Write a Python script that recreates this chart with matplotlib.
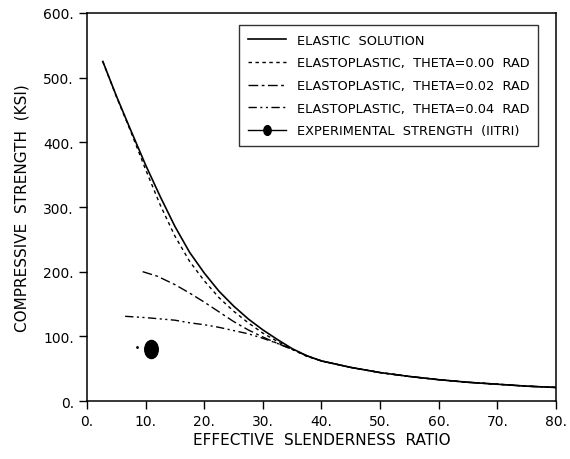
import numpy as np
import matplotlib
matplotlib.use('Agg')
import matplotlib.pyplot as plt
from matplotlib.markers import MarkerStyle
from matplotlib.transforms import Affine2D

# values
x_el = [2.7, 5, 7.5, 10, 12.5, 15, 17.5, 20, 22.5, 25, 27.5, 30, 32.5, 35, 37.5,
        40, 45, 50, 55, 60, 65, 70, 75, 80]
y_el = [525, 472, 418, 365, 316, 270, 230, 198, 170, 147, 127, 110, 95, 81, 70,
        62, 52, 44, 38, 33, 29, 26, 23, 21]

x_t00 = [2.7, 5, 7.5, 10, 12.5, 15, 17.5, 20, 22.5, 25, 27.5, 30, 32.5, 35, 37.5,
         40, 45, 50, 55, 60, 65, 70, 75, 80]
y_t00 = [525, 471, 416, 358, 303, 255, 216, 186, 160, 139, 121, 105, 92, 80, 69,
         62, 52, 44, 38, 33, 29, 26, 23, 21]

x_t02 = [9.5, 12, 15, 17.5, 20, 22.5, 25, 27.5, 30, 32.5, 35, 37.5, 40, 45, 50,
         55, 60, 65, 70, 75, 80]
y_t02 = [200, 193, 180, 167, 153, 138, 123, 110, 99, 89, 80, 70, 62, 52, 44,
         38, 33, 29, 26, 23, 21]

x_t04 = [6.5, 10, 12.5, 15, 17.5, 20, 22.5, 25, 27.5, 30, 32.5, 35, 37.5, 40, 45,
         50, 55, 60, 65, 70, 75, 80]
y_t04 = [131, 129, 127, 125, 121, 118, 114, 109, 104, 97, 89, 80, 70, 62, 52,
         44, 38, 33, 29, 26, 23, 21]

x_exp = [10.9]
y_exp = [80]
x_exp_tick = [8.6]
y_exp_tick = [83]

xticks = [0, 10, 20, 30, 40, 50, 60, 70, 80]
yticks = [0, 100, 200, 300, 400, 500, 600]

plt.rcParams['font.family'] = ['DejaVu Sans']

fig = plt.figure(figsize=(5.7, 4.6), dpi=100)
ax = fig.add_axes([0.1526, 0.126, 0.8228, 0.8436])

ax.plot(x_el, y_el, color='black', lw=1.2, label='ELASTIC  SOLUTION')
ax.plot(x_t00, y_t00, color='black', lw=1.0, dashes=(2.5, 2.5),
        label='ELASTOPLASTIC,  THETA=0.00  RAD')
ax.plot(x_t02, y_t02, color='black', lw=1.0, dashes=(7, 2.5, 2, 2.5),
        label='ELASTOPLASTIC,  THETA=0.02  RAD')
ax.plot(x_t04, y_t04, color='black', lw=1.0, dashes=(6, 2.5, 1.5, 2.5, 1.5, 2.5),
        label='ELASTOPLASTIC,  THETA=0.04  RAD')

ell = MarkerStyle('o', transform=Affine2D().scale(0.75, 1.0))
ax.plot(x_exp, y_exp, color='black', lw=1.0, marker=ell, markersize=13,
        linestyle='-', label='EXPERIMENTAL  STRENGTH  (IITRI)')
ax.plot(x_exp_tick, y_exp_tick, 'k.', markersize=2)

ax.set_xlim(0, 80)
ax.set_ylim(0, 600)
ax.set_xticks(xticks)
ax.set_xticklabels([f'{t}.' for t in xticks])
ax.set_yticks(yticks)
ax.set_yticklabels([f'{t}.' for t in yticks])
ax.tick_params(direction='out', length=6, width=1, labelsize=10)
for s in ax.spines.values():
    s.set_linewidth(1.1)

ax.set_xlabel('EFFECTIVE  SLENDERNESS  RATIO', fontsize=11, labelpad=3)
ax.set_ylabel('COMPRESSIVE  STRENGTH  (KSI)', fontsize=11, labelpad=10)

leg = ax.legend(loc='upper right', bbox_to_anchor=(0.975, 0.985), fontsize=9.3,
                frameon=True, fancybox=False, edgecolor='black', handlelength=3,
                labelspacing=0.75, borderpad=0.65, handletextpad=0.8)
leg.get_frame().set_linewidth(1.0)
leg.legend_handles[4].set_markersize(7)

fig.savefig('out.png', dpi=100)
